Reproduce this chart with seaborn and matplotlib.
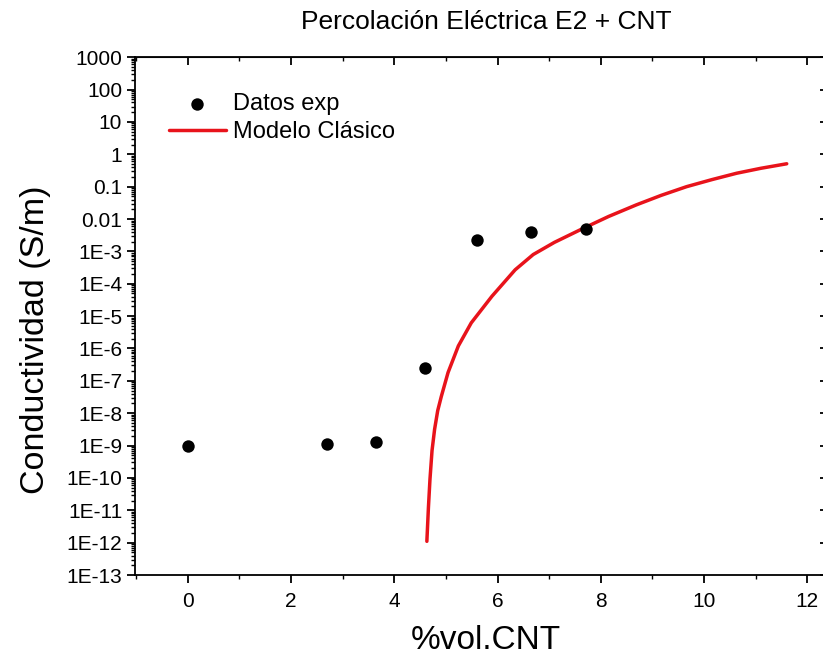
import numpy as np
import pandas as pd
import seaborn as sns
import matplotlib.pyplot as plt
from matplotlib.ticker import FixedLocator, LogLocator, MultipleLocator, NullFormatter

vol_cnt = [0.0, 2.69, 3.64, 4.60, 5.61, 6.64, 7.71]
conduct = [1.0e-9, 1.15e-9, 1.26e-9, 2.5e-7, 2.3e-3, 4.0e-3, 4.8e-3]

# classic percolation model curve
model_x = [4.63, 4.66, 4.69, 4.73, 4.78, 4.84, 4.91, 5.04, 5.24, 5.49, 5.89,
           6.34, 6.69, 7.10, 7.63, 8.15, 8.69, 9.17, 9.66, 10.15, 10.63, 11.10, 11.60]
model_y = [1.1e-12, 1.2e-11, 9e-11, 7e-10, 3.2e-9, 1.2e-8, 3.3e-8, 1.8e-7, 1.2e-6,
           6.2e-6, 4.1e-5, 2.7e-4, 8e-4, 1.9e-3, 4.9e-3, 1.2e-2, 2.75e-2, 5.4e-2,
           0.10, 0.165, 0.26, 0.37, 0.51]

ytick_vals = [10.0 ** k for k in range(3, -14, -1)]
ytick_labels = ['1000', '100', '10', '1', '0.1', '0.01', '1E-3', '1E-4', '1E-5',
                '1E-6', '1E-7', '1E-8', '1E-9', '1E-10', '1E-11', '1E-12', '1E-13']

df_exp = pd.DataFrame({'vol': vol_cnt, 'sigma': conduct})
df_mod = pd.DataFrame({'vol': model_x, 'sigma': model_y})

sns.set_style('white')
plt.rcParams['font.family'] = ['Liberation Sans', 'DejaVu Sans']
plt.rcParams['text.color'] = 'black'
plt.rcParams['axes.labelcolor'] = 'black'
plt.rcParams['xtick.color'] = 'black'
plt.rcParams['ytick.color'] = 'black'

fig = plt.figure(figsize=(8.23, 6.63), dpi=100)
ax = fig.add_axes([0.1636, 0.1327, 0.840, 0.781])

sns.scatterplot(data=df_exp, x='vol', y='sigma', ax=ax, color='black', s=80,
                edgecolor='black', linewidth=0, label='Datos exp', zorder=3)
sns.lineplot(data=df_mod, x='vol', y='sigma', ax=ax, color='#e8131b', lw=2.5,
             label='Modelo Clásico', zorder=2)

ax.set_yscale('log')
ax.set_xlim(-1.03, 12.36)
ax.set_ylim(1e-13, 1000)

ax.yaxis.set_major_locator(FixedLocator(ytick_vals))
ax.set_yticklabels(ytick_labels)
ax.yaxis.set_minor_locator(LogLocator(base=10, subs=np.arange(2, 10), numticks=100))
ax.yaxis.set_minor_formatter(NullFormatter())
ax.xaxis.set_major_locator(MultipleLocator(2))
ax.xaxis.set_minor_locator(MultipleLocator(1))

ax.tick_params(axis='both', which='both', bottom=True, left=True, top=False, right=False)
ax.tick_params(axis='both', which='major', direction='out', length=6, width=1.3,
               labelsize=15, colors='black')
ax.tick_params(axis='both', which='minor', direction='out', length=3, width=1.0)
ax.tick_params(axis='x', which='major', pad=6)
ax.tick_params(axis='y', which='major', pad=3)

for sp in ax.spines.values():
    sp.set_linewidth(1.3)
    sp.set_color('black')

# mirrored ticks on top and right
top = ax.secondary_xaxis('top')
top.xaxis.set_major_locator(MultipleLocator(2))
top.xaxis.set_minor_locator(MultipleLocator(1))
top.tick_params(which='both', top=True)
top.tick_params(which='major', direction='in', length=6, width=1.3, labeltop=False)
top.tick_params(which='minor', direction='in', length=3, width=1.0)
right = ax.secondary_yaxis('right')
right.yaxis.set_major_locator(FixedLocator(ytick_vals))
right.tick_params(which='major', right=True, direction='in', length=4, width=1.3,
                  labelright=False)
right.tick_params(which='minor', length=0)

ax.set_xlabel('%vol.CNT', fontsize=24, labelpad=10)
ax.xaxis.label.set_x(0.508)
ax.set_ylabel('Conductividad (S/m)', fontsize=24.5, labelpad=11)
ax.yaxis.label.set_y(0.454)
ax.set_title('Percolación Eléctrica E2 + CNT', fontsize=19, pad=20, x=0.508)

leg = ax.legend(loc='upper left', bbox_to_anchor=(0.036, 0.949), frameon=False,
                fontsize=17, handlelength=2.4, handletextpad=0.3, labelspacing=0.25,
                borderaxespad=0)

fig.savefig('out.png', dpi=100)
